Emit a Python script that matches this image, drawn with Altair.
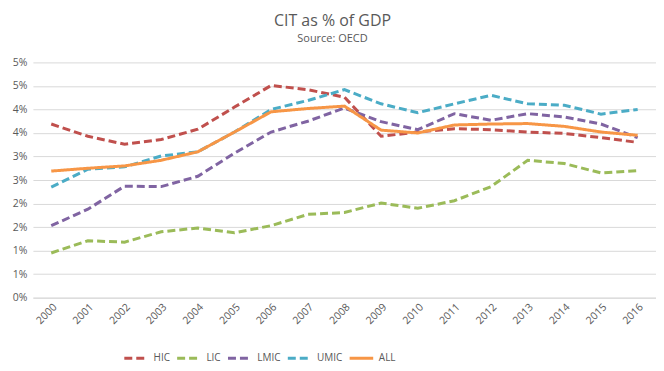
import altair as alt
import pandas as pd

years = [str(y) for y in range(2000, 2017)]
series = ["HIC", "LIC", "LMIC", "UMIC", "ALL"]
hic = [3.69, 3.43, 3.26, 3.36, 3.58, 4.05, 4.51, 4.42, 4.26, 3.43, 3.52, 3.59, 3.57, 3.52, 3.49, 3.40, 3.30]
lic = [0.95, 1.21, 1.18, 1.40, 1.48, 1.38, 1.53, 1.77, 1.81, 2.01, 1.90, 2.06, 2.36, 2.92, 2.85, 2.65, 2.70]
lmic = [1.53, 1.88, 2.37, 2.36, 2.58, 3.07, 3.52, 3.75, 4.03, 3.74, 3.57, 3.91, 3.77, 3.91, 3.84, 3.69, 3.40]
umic = [2.35, 2.73, 2.78, 3.01, 3.10, 3.52, 4.00, 4.19, 4.42, 4.12, 3.93, 4.12, 4.30, 4.12, 4.09, 3.90, 4.00]
all_ = [2.69, 2.75, 2.80, 2.92, 3.10, 3.52, 3.95, 4.02, 4.07, 3.56, 3.50, 3.67, 3.69, 3.70, 3.64, 3.52, 3.45]
y_ticks = [0, 0.5, 1, 1.5, 2, 2.5, 3, 3.5, 4, 4.5, 5]
colors = ["#C0504D", "#9BBB59", "#8064A2", "#4BACC6", "#F79646"]
dashes = [[8, 4], [8, 4], [8, 4], [8, 4], [1, 0]]

rows = []
for name, vals in zip(series, [hic, lic, lmic, umic, all_]):
    for yr, v in zip(years, vals):
        rows.append({"Year": yr, "Series": name, "Value": v, "ord": series.index(name)})
df = pd.DataFrame(rows)

font = "Open Sans"
chart = alt.Chart(df).mark_line(strokeWidth=3).encode(
    x=alt.X("Year:O", scale=alt.Scale(type="point", padding=0.5),
            axis=alt.Axis(title=None, labelAngle=-45, ticks=False, grid=False,
                          domainColor="#D9D9D9", labelColor="#595959", labelFontSize=10.5,
                          labelFont=font, labelPadding=4)),
    y=alt.Y("Value:Q", scale=alt.Scale(domain=[0, 5], nice=False),
            axis=alt.Axis(title=None, values=y_ticks, labelExpr="round(datum.value) + '%'",
                          domain=False, ticks=False, gridColor="#D9D9D9",
                          labelColor="#595959", labelFontSize=10.5, labelFont=font, labelPadding=6)),
    color=alt.Color("Series:N", scale=alt.Scale(domain=series, range=colors),
                    legend=alt.Legend(title=None, orient="none", direction="horizontal",
                                      legendX=90, legendY=283, padding=0,
                                      symbolType="stroke", symbolStrokeWidth=3, symbolSize=560,
                                      labelFont=font, labelFontSize=10, labelColor="#595959",
                                      labelOffset=4, columnPadding=0)),
    strokeDash=alt.StrokeDash("Series:N", scale=alt.Scale(domain=series, range=dashes), legend=None),
    order=alt.Order("ord:Q"),
).properties(
    width=625, height=236,
    padding={"left": 25, "top": 54, "right": 0, "bottom": 70},
    autosize=alt.AutoSizeParams(type="none"),
    title=alt.TitleParams(text="CIT as % of GDP", subtitle="Source: OECD", font=font,
                          fontSize=16, fontWeight="normal", color="#595959",
                          subtitleFont=font, subtitleFontSize=11, subtitleColor="#595959",
                          subtitlePadding=4, anchor="middle", offset=13, dx=-12),
).configure_view(stroke=None)

chart.save("out.html", embed_options={"renderer": "svg", "actions": False})
